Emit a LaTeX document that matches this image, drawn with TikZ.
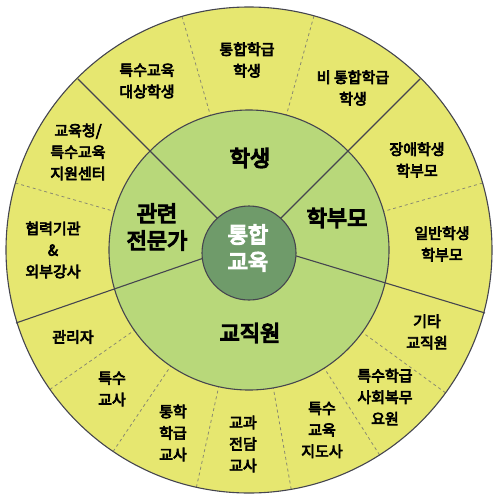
\documentclass[tikz,border=0pt]{standalone}
\usepackage{fontspec}
\newfontfamily\kro{Noto Sans CJK KR}[FakeBold=4.5]
\newfontfamily\krm{Noto Sans CJK KR}[FakeBold=6]
\definecolor{outerc}{HTML}{E6E770}
\definecolor{midc}{HTML}{B8D87A}
\definecolor{innerc}{HTML}{6F9B6A}
\definecolor{linec}{HTML}{45454F}
\definecolor{dashc}{HTML}{8A8A70}
\begin{document}
\begin{tikzpicture}[x=1pt,y=-1pt,
  ring/.style={draw=linec,line width=1.1pt},
  divline/.style={draw=linec,line width=1.1pt},
  dashline/.style={draw=dashc,line width=0.8pt,dash pattern=on 3pt off 3pt},
  outlbl/.style={align=center,font=\kro\fontsize{15}{21.5}\selectfont,text=black,inner sep=0pt},
  midlbl/.style={align=center,font=\krm\fontsize{22}{27}\selectfont,text=black,inner sep=0pt},
  ctrlbl/.style={align=center,font=\krm\fontsize{22}{27}\selectfont,text=white,inner sep=0pt}]
\useasboundingbox (0,0) rectangle (500,501);
\coordinate (C) at (249,250);
% outer ring
\fill[outerc] (C) circle (243);
% dashed dividers
\foreach \a in {-106,-74.5,-16,-164,-215,-236,-257.5,-280,-302.5,-324}
  \draw[dashline] (C) -- ([shift={(\a:243)}]C);
\draw[ring] (C) circle (243);
% middle ring
\fill[midc] (C) circle (140);
\draw[ring] (C) circle (140);
% solid dividers
\coordinate (L0) at (250,242);
\coordinate (E1) at ([shift={(-135:242)}]C);
\coordinate (E2) at ([shift={(-45:242)}]C);
\coordinate (E3) at (485,313);
\coordinate (E4) at (16,323);
\draw[divline] (C) -- (E1);
\draw[divline] (C) -- (E2);
\draw[divline] (L0) -- (E3);
\draw[divline] (L0) -- (E4);
% inner circle
\fill[innerc] (249,253) circle (47);
\draw[ring] (249,253) circle (47);
% outer labels
\node[outlbl] (n1) at (147,81) {특수교육\\대상학생};
\node[outlbl] (n2) at (247,60) {통합학급\\학생};
\node[outlbl] (n3) at (353,88) {비 통합학급\\학생};
\node[outlbl] (n4) at (417,160) {장애학생\\학부모};
\node[outlbl] (n5) at (442,244) {일반학생\\학부모};
\node[outlbl] (n6) at (427,332) {기타\\교직원};
\node[outlbl] (n7) at (385,397) {특수학급\\사회복무\\요원};
\node[outlbl] (n8) at (322,430) {특수\\교육\\지도사};
\node[outlbl] (n9) at (243,444) {교과\\전담\\교사};
\node[outlbl] (n10) at (173,433) {통학\\학급\\교사};
\node[outlbl] (n11) at (112,389) {특수\\교사};
\node[outlbl] (n12) at (73,337) {관리자};
\node[outlbl] (n13) at (53,250) {협력기관\\\&\\외부강사};
\node[outlbl] (n14) at (78,152) {교육청/\\특수교육\\지원센터};
% middle labels
\node[midlbl] (m1) at (250,158) {학생};
\node[midlbl] (m2) at (337,218) {학부모};
\node[midlbl] (m3) at (250,333) {교직원};
\node[midlbl] (m4) at (157,227) {관련\\전문가};
% center
\node[ctrlbl] (c1) at (248,248) {통합\\교육};
\end{tikzpicture}
\end{document}
